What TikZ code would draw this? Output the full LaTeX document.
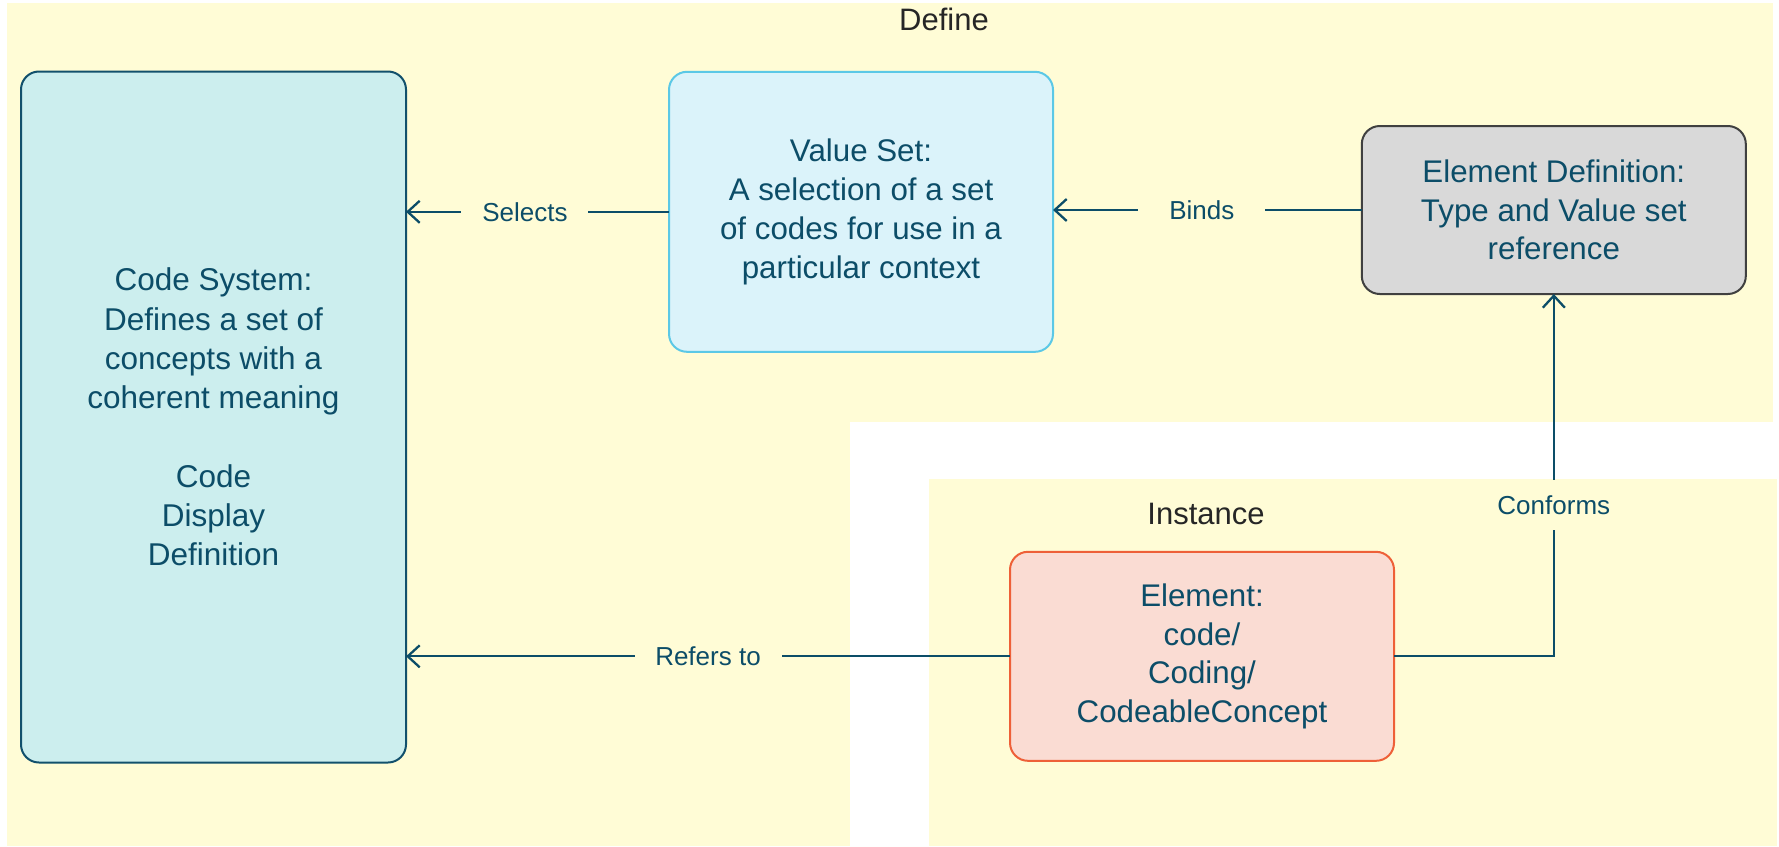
\documentclass[tikz,border=0pt]{standalone}
\usepackage{fontspec}
\setmainfont{Liberation Sans}
\usetikzlibrary{arrows.meta}
\definecolor{bgyellow}{RGB}{255,252,214}
\definecolor{ink}{RGB}{12,77,104}
\definecolor{headink}{RGB}{38,38,38}
\definecolor{csfill}{RGB}{204,238,238}
\definecolor{csdraw}{RGB}{18,80,108}
\definecolor{vsfill}{RGB}{219,243,250}
\definecolor{vsdraw}{RGB}{91,200,230}
\definecolor{edfill}{RGB}{217,217,217}
\definecolor{eddraw}{RGB}{64,64,64}
\definecolor{elfill}{RGB}{250,220,211}
\definecolor{eldraw}{RGB}{238,96,56}
\begin{document}
\begin{tikzpicture}[x=1pt,y=-1pt,
  box/.style={rounded corners=18pt, line width=2pt, inner sep=0pt, outer sep=0pt,
    align=center, text=ink, font=\fontsize{31.3}{38.8}\selectfont, minimum width=384pt},
  link/.style={draw=ink, line width=2.3pt, -{Straight Barb[length=12pt,width=22pt]}},
  lbl/.style={fill=bgyellow, text=ink, font=\fontsize{26}{30}\selectfont,
    inner sep=0pt, minimum height=30pt},
  head/.style={text=headink, font=\fontsize{31}{37}\selectfont, anchor=base, inner sep=0pt}
]
\useasboundingbox (0,0) rectangle (1779,846);

% regions
\fill[bgyellow] (7,3) rectangle (1773,846);
\fill[white] (850,422) rectangle (1779,846);
\fill[bgyellow] (929,479) rectangle (1777,846);

\node[head] (def) at (944,30.7) {Define};
\node[head] (inst) at (1206,524) {Instance};

% boxes
\node[box, fill=csfill, draw=csdraw, minimum width=385pt, minimum height=691pt,
  font=\fontsize{31.5}{39.3}\selectfont] (cs) at (213.5,417)
  {Code System:\\Defines a set of\\concepts with a\\coherent meaning\\[39.3pt]Code\\Display\\Definition};
\node[box, fill=vsfill, draw=vsdraw, minimum height=280pt] (vs) at (861,211.8)
  {Value Set:\\A selection of a set\\of codes for use in a\\particular context};
\node[box, fill=edfill, draw=eddraw, minimum height=168pt] (ed) at (1553.8,210)
  {Element Definition:\\Type and Value set\\reference};
\node[box, fill=elfill, draw=eldraw, minimum height=209pt] (el) at (1202,656.3)
  {Element:\\code/\\Coding/\\CodeableConcept};

% relations
\draw[link] (vs.west) -- node[lbl, pos=0.548, minimum width=127pt] {Selects} (vs.west -| cs.east);
\draw[link] (ed.west) -- node[lbl, pos=0.518, minimum width=127pt] {Binds} (ed.west -| vs.east);
\draw[link] (el.west) -- node[lbl, pos=0.5, minimum width=147pt] {Refers to} (el.west -| cs.east);
\draw[link] (el.east) -| node[lbl, pos=0.709, minimum height=50pt, minimum width=120pt] {Conforms} (ed.south);
\end{tikzpicture}
\end{document}
